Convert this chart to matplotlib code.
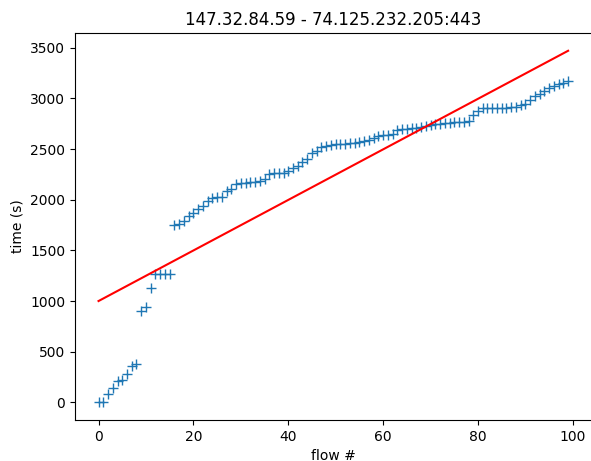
import numpy as np
import matplotlib
matplotlib.use('Agg')
import matplotlib.pyplot as plt

title = '147.32.84.59 - 74.125.232.205:443'

# start time of each flow, in seconds
flow_idx = list(range(100))
flow_time = [
    0, 3, 86, 146, 211, 218, 277, 360, 377, 902,
    945, 1133, 1269, 1269, 1269, 1269, 1754, 1761, 1794, 1837,
    1870, 1910, 1936, 1986, 2018, 2028, 2030, 2090, 2110, 2160,
    2167, 2167, 2173, 2180, 2190, 2207, 2250, 2260, 2262, 2266,
    2280, 2310, 2330, 2375, 2400, 2458, 2480, 2520, 2535, 2544,
    2548, 2552, 2555, 2560, 2565, 2570, 2580, 2590, 2613, 2630,
    2636, 2643, 2650, 2686, 2696, 2703, 2710, 2713, 2720, 2729,
    2740, 2745, 2752, 2755, 2762, 2768, 2772, 2772, 2775, 2835,
    2880, 2901, 2907, 2907, 2907, 2910, 2910, 2917, 2920, 2935,
    2950, 2985, 3020, 3040, 3075, 3105, 3125, 3142, 3155, 3170,
]

x = np.array(flow_idx)
y = np.array(flow_time)

# linear regression line
coef = np.polyfit(x, y, 1)
fit = np.polyval(coef, x)
print(coef)

fig = plt.figure(figsize=(5.91, 4.61), dpi=100)
ax = fig.add_axes([0.127, 0.089, 0.874, 0.839])
ax.plot(x, y, '+', markersize=7)
ax.plot(x, fit, '-', color='red', linewidth=1.5)
ax.set_title(title)
ax.set_xlabel('flow #')
ax.set_ylabel('time (s)')
fig.savefig('out.png', dpi=100)
